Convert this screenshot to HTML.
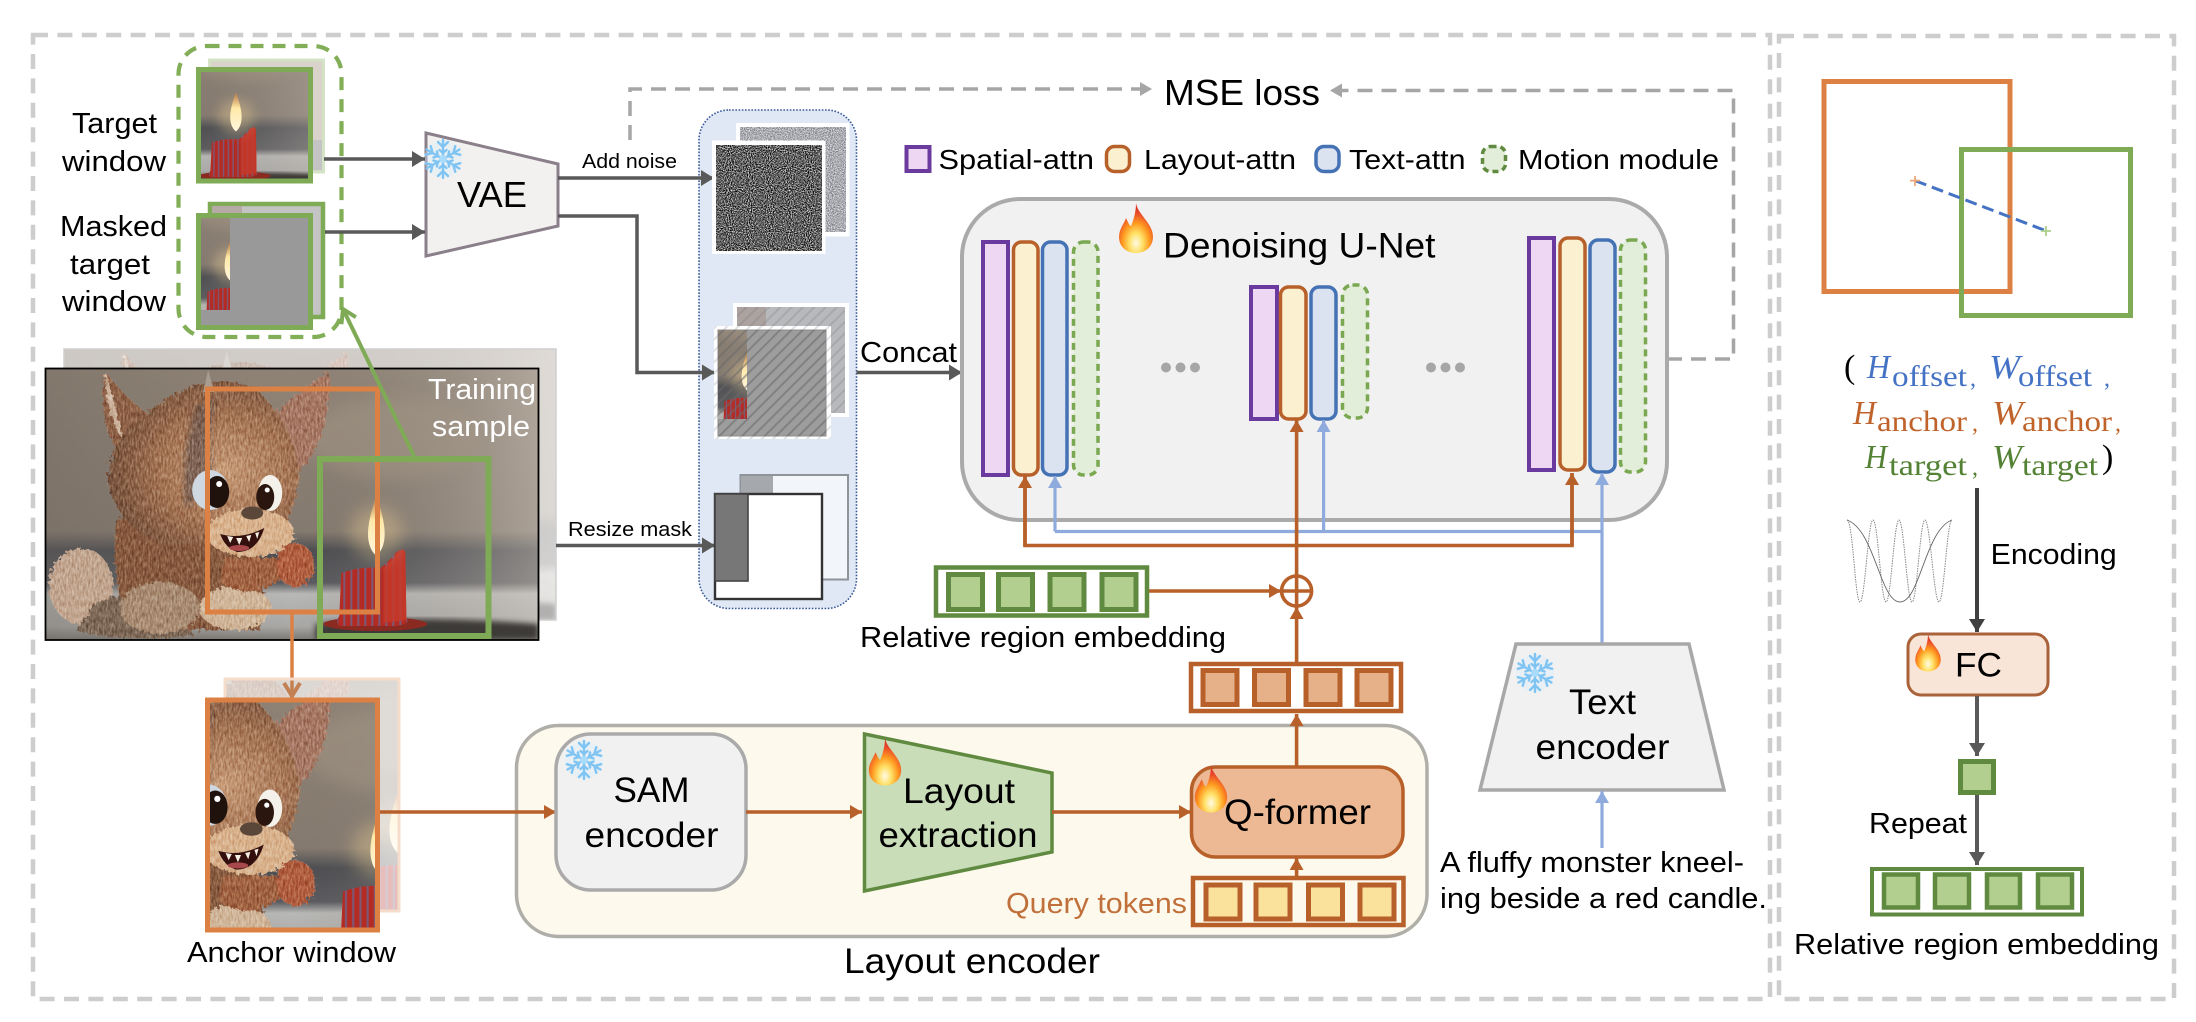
<!DOCTYPE html>
<html lang="en"><head><meta charset="utf-8"><title>Diagram</title>
<style>
html,body{margin:0;padding:0;background:#fff}
svg{display:block}
text{font-family:"Liberation Sans",sans-serif;fill:#000}
.s{font-family:"Liberation Serif",serif}
.i{font-family:"Liberation Serif",serif;font-style:italic}
.bl{fill:#4472c4}.or{fill:#c0632b}.gr{fill:#548235}
</style></head><body>
<svg xmlns="http://www.w3.org/2000/svg" width="2196" height="1022" viewBox="0 0 2196 1022">
<defs>
<marker id="mG" markerUnits="userSpaceOnUse" markerWidth="14" markerHeight="16" refX="13" refY="8" orient="auto"><path d="M0 0L13 8L0 16z" fill="#595959"/></marker>
<marker id="mO" markerUnits="userSpaceOnUse" markerWidth="13" markerHeight="14" refX="12" refY="7" orient="auto"><path d="M0 0L12 7L0 14z" fill="#b8602a"/></marker>
<marker id="mB" markerUnits="userSpaceOnUse" markerWidth="13" markerHeight="14" refX="12" refY="7" orient="auto"><path d="M0 0L12 7L0 14z" fill="#8faadc"/></marker>
<marker id="mD" markerUnits="userSpaceOnUse" markerWidth="13" markerHeight="14" refX="12" refY="7" orient="auto"><path d="M0 0L12 7L0 14z" fill="#a6a6a6"/></marker>
<marker id="mK" markerUnits="userSpaceOnUse" markerWidth="14" markerHeight="16" refX="13" refY="8" orient="auto"><path d="M0 0L13 8L0 16z" fill="#404040"/></marker>
<marker id="oG" markerUnits="userSpaceOnUse" markerWidth="18" markerHeight="20" refX="15" refY="10" orient="auto"><path d="M2 2L15 10L2 18" fill="none" stroke="#7fab56" stroke-width="4"/></marker>
<marker id="oO" markerUnits="userSpaceOnUse" markerWidth="18" markerHeight="20" refX="15" refY="10" orient="auto"><path d="M2 2L15 10L2 18" fill="none" stroke="#dc8044" stroke-width="4"/></marker>

<linearGradient id="bgV" x1="0" y1="0" x2="0" y2="1">
<stop offset="0" stop-color="#8f8376"/><stop offset=".6" stop-color="#857a6f"/><stop offset=".67" stop-color="#4c4d51"/><stop offset=".79" stop-color="#595a5e"/><stop offset=".83" stop-color="#b8b8b6"/><stop offset=".95" stop-color="#a8a8a6"/><stop offset="1" stop-color="#7b7873"/>
</linearGradient>
<linearGradient id="bgH" x1="0" y1="0" x2="1" y2="0">
<stop offset="0" stop-color="#6a625a" stop-opacity=".35"/><stop offset=".5" stop-color="#7a7068" stop-opacity="0"/><stop offset="1" stop-color="#d8d0c6" stop-opacity=".45"/>
</linearGradient>
<radialGradient id="head" cx=".62" cy=".55" r=".62">
<stop offset="0" stop-color="#c79a74"/><stop offset=".55" stop-color="#a47252"/><stop offset="1" stop-color="#75503a"/>
</radialGradient>
<radialGradient id="flameG" cx=".5" cy=".8" r=".72">
<stop offset="0" stop-color="#fffbe6"/><stop offset=".28" stop-color="#ffe066"/><stop offset=".55" stop-color="#ff9a20"/><stop offset=".85" stop-color="#e8452a"/><stop offset="1" stop-color="#d83a28"/>
</radialGradient>
<linearGradient id="cflame" x1="0" y1="0" x2="0" y2="1">
<stop offset="0" stop-color="#c87a3a" stop-opacity=".7"/><stop offset=".4" stop-color="#ffe9a8"/><stop offset="1" stop-color="#fff6de"/>
</linearGradient>
<pattern id="stripes" patternUnits="userSpaceOnUse" width="7" height="10"><rect width="7" height="10" fill="#b32b22"/><rect x="4" width="2" height="10" fill="#7a5a78"/></pattern>
<filter id="fur" x="-10%" y="-10%" width="120%" height="120%"><feTurbulence type="fractalNoise" baseFrequency=".3" numOctaves="2" seed="4" result="t"/><feDisplacementMap in="SourceGraphic" in2="t" scale="8" result="d"/><feTurbulence type="fractalNoise" baseFrequency=".55 .18" numOctaves="3" seed="9" result="n"/><feColorMatrix in="n" type="matrix" values="1 0 0 0 0 1 0 0 0 0 1 0 0 0 0 0 0 0 0 1" result="g"/><feComposite in="g" in2="d" operator="in" result="gi"/><feBlend in="gi" in2="d" mode="soft-light"/></filter>
<filter id="b3"><feGaussianBlur stdDeviation="3"/></filter>
<filter id="b8" x="-50%" y="-50%" width="200%" height="200%"><feGaussianBlur stdDeviation="8"/></filter>
<filter id="nD" x="0" y="0" width="1" height="1" color-interpolation-filters="sRGB"><feTurbulence type="fractalNoise" baseFrequency=".95" numOctaves="2" seed="3"/><feColorMatrix type="matrix" values="1 0 0 0 0 1 0 0 0 0 1 0 0 0 0 0 0 0 0 1"/><feComponentTransfer><feFuncR type="linear" slope="2.2" intercept="-.72"/><feFuncG type="linear" slope="2.2" intercept="-.72"/><feFuncB type="linear" slope="2.2" intercept="-.72"/></feComponentTransfer></filter>
<filter id="nL" x="0" y="0" width="1" height="1" color-interpolation-filters="sRGB"><feTurbulence type="fractalNoise" baseFrequency=".95" numOctaves="2" seed="8"/><feColorMatrix type="matrix" values="1 0 0 0 0 1 0 0 0 0 1 0 0 0 0 0 0 0 0 1"/><feComponentTransfer><feFuncR type="linear" slope="1" intercept=".17"/><feFuncG type="linear" slope="1" intercept=".18"/><feFuncB type="linear" slope="1" intercept=".2"/></feComponentTransfer></filter>
<pattern id="hatch" patternUnits="userSpaceOnUse" width="8" height="8" patternTransform="rotate(45)"><rect width="2" height="8" x="0" fill="#6a6a6a" opacity=".55"/></pattern>
<pattern id="hatchW" patternUnits="userSpaceOnUse" width="8" height="8" patternTransform="rotate(45)"><rect width="2" height="8" x="0" fill="#b0b4ba"/></pattern>

<g id="scene">
<rect width="493" height="272" fill="url(#bgV)"/>
<rect width="493" height="272" fill="url(#bgH)"/>
<ellipse cx="350" cy="70" rx="90" ry="40" fill="#a39686" opacity=".5" filter="url(#b8)"/>
<path d="M270 256Q360 246 493 256V272H270z" fill="#3d3b39" filter="url(#b3)"/>
<g filter="url(#fur)">
<ellipse cx="36" cy="218" rx="32" ry="38" fill="#c2a58e"/>
<path d="M30 262C60 272 110 272 150 268L110 215L50 235z" fill="#7d6654"/>
<path d="M72 150C66 190 70 240 95 262H215C222 230 218 190 205 150z" fill="#86593e"/>
<ellipse cx="115" cy="240" rx="40" ry="26" fill="#a88a6f"/>
<ellipse cx="190" cy="240" rx="36" ry="22" fill="#d0b598"/>
<path d="M60 3C52 40 62 82 92 104L132 60C106 52 82 32 60 3z" fill="#8d5f44"/>
<path d="M60 3C60 30 66 55 78 72C72 50 68 25 60 3z" fill="#cdb39c"/>
<path d="M284 3C256 20 240 38 224 50L252 104C278 84 286 40 284 3z" fill="#a67660"/>
<path d="M108 40Q160 0 210 20Q252 60 254 110Q250 150 224 176H120Q70 160 62 110Q66 70 108 40z" fill="url(#head)"/>
<path d="M150 40Q135 90 140 140L170 120Q160 80 170 30z" fill="#54494a" opacity=".55" filter="url(#b3)"/>
<ellipse cx="205" cy="165" rx="44" ry="24" fill="#d9b28c"/>
<path d="M238 208C215 232 190 224 175 214L180 190L235 190z" fill="#a0603f"/>
<ellipse cx="250" cy="197" rx="19" ry="22" fill="#b05c3c"/>
</g>
<path d="M158 24L163 2L169 24z" fill="#a89c90"/>
<ellipse cx="165" cy="122" rx="18" ry="20" fill="#cfd8e0"/>
<ellipse cx="172" cy="124" rx="12" ry="16" fill="#1f110c"/><circle cx="174" cy="116" r="3" fill="#fff"/>
<ellipse cx="225" cy="125" rx="12" ry="18" fill="#f4f1ea"/>
<ellipse cx="220" cy="129" rx="9" ry="13" fill="#2a160e"/><circle cx="222" cy="122" r="2.5" fill="#fff"/>
<ellipse cx="207" cy="145" rx="11" ry="6.5" fill="#5a473a"/>
<path d="M175 166Q196 172 219 160Q212 184 192 184Q180 180 175 166z" fill="#33100e"/>
<path d="M182 168l3 7l3-6zM191 170l3 7l3-7zM201 168l3 6l2-7zM210 165l2 6l2-7z" fill="#f6efe4"/>
<ellipse cx="194" cy="180" rx="10" ry="3" fill="#a8484a"/>
<ellipse cx="330" cy="256" rx="52" ry="7" fill="#8a2a20"/>
<path d="M296 205Q316 198 335 200Q345 192 350 185Q358 178 360 185L361 250Q366 256 350 258L294 258Q290 254 294 248z" fill="url(#stripes)"/>
<path d="M338 200Q348 192 352 185Q358 178 360 185L361 252L338 255z" fill="#c63a2a" opacity=".85"/>
<circle cx="331" cy="165" r="26" fill="#ffdf9a" opacity=".3" filter="url(#b8)"/>
<path d="M331 128C340 154 344 176 331 188C318 176 322 154 331 128z" fill="url(#cflame)"/>
</g>

<g id="flameI">
<path d="M20 0C22 12 37 20 37 34C37 44 29 50 20 50C11 50 3 44 3 34C3 26 8 21 10 15C12 19 13 22 15 23C18 16 20 8 20 0z" fill="url(#flameG)"/>
</g>
<g id="arm" fill="none" stroke="#7fc4f2" stroke-width="2.4" stroke-linecap="round">
<path d="M0 0V-19M0 -12L-5 -17M0 -12L5 -17M0 -6L-3.5 -9M0 -6L3.5 -9"/>
</g>
<g id="snow">
<circle r="19" fill="#d6efff" opacity=".35"/>
<use href="#arm"/><use href="#arm" transform="rotate(60)"/><use href="#arm" transform="rotate(120)"/><use href="#arm" transform="rotate(180)"/><use href="#arm" transform="rotate(240)"/><use href="#arm" transform="rotate(300)"/>
<circle r="4" fill="#a8dcfa"/>
</g>
</defs>

<!-- frames -->
<rect x="33" y="35" width="1737" height="964" fill="none" stroke="#cdcdcd" stroke-width="4.5" stroke-dasharray="15 9.4"/>
<rect x="1779" y="36" width="395" height="963" fill="none" stroke="#cdcdcd" stroke-width="4.5" stroke-dasharray="15 9.4"/>

<!-- blue panel -->
<rect x="699" y="110" width="157.5" height="498.5" rx="30" fill="#dfe8f4" stroke="#3b5a9b" stroke-width="1.6" stroke-dasharray="1.6 1.6"/>

<!-- target back -->
<rect x="209.5" y="60" width="114" height="112" fill="#d9d3cc" stroke="#d4e3c6" stroke-width="3"/>
<rect x="290" y="140" width="32" height="30" fill="#c4c4c4"/>
<!-- target front -->
<svg x="196" y="67" width="117" height="116" viewBox="273 89 170 178" preserveAspectRatio="none"><use href="#scene"/></svg>
<rect x="198.5" y="69.5" width="112" height="111.5" fill="none" stroke="#7fab56" stroke-width="5"/>

<!-- masked -->
<rect x="210" y="204" width="113" height="113" fill="#c4c4c4" stroke="#7fab56" stroke-width="4.5"/>
<rect x="212" y="206" width="30" height="8" fill="#b5aaa5"/>
<rect x="198.5" y="215.5" width="112" height="112" fill="#999" stroke="#7fab56" stroke-width="5"/>
<svg x="201" y="218" width="29" height="92" viewBox="286 92 45 141.5" preserveAspectRatio="none"><use href="#scene"/></svg>

<rect x="178.5" y="46" width="163" height="291" rx="28" fill="none" stroke="#82ae57" stroke-width="4.2" stroke-dasharray="13 9"/>

<text x="72" y="133" font-size="29" textLength="85" lengthAdjust="spacingAndGlyphs">Target</text>
<text x="62" y="171" font-size="29" textLength="104" lengthAdjust="spacingAndGlyphs">window</text>
<text x="60" y="236" font-size="29" textLength="107" lengthAdjust="spacingAndGlyphs">Masked</text>
<text x="70" y="274" font-size="29" textLength="80" lengthAdjust="spacingAndGlyphs">target</text>
<text x="62" y="311" font-size="29" textLength="104" lengthAdjust="spacingAndGlyphs">window</text>

<!-- training sample -->
<g opacity=".4"><svg x="64" y="349" width="492" height="271" viewBox="0 0 493 272" preserveAspectRatio="none"><use href="#scene"/></svg></g>
<rect x="64" y="349" width="492" height="271" fill="none" stroke="#cfcfcf" stroke-width="1.5"/>
<svg x="45" y="368" width="493.5" height="272" viewBox="0 0 493 272" preserveAspectRatio="none"><use href="#scene"/></svg>
<rect x="45.5" y="368.5" width="493" height="271.5" fill="none" stroke="#000" stroke-width="1.8"/>
<text x="428" y="399" font-size="29" textLength="108" lengthAdjust="spacingAndGlyphs" style="fill:#fff">Training</text>
<text x="432" y="436" font-size="29" textLength="98" lengthAdjust="spacingAndGlyphs" style="fill:#fff">sample</text>
<rect x="207.5" y="389" width="170" height="223" fill="none" stroke="#dc8044" stroke-width="5"/>
<rect x="320" y="459" width="168.5" height="177" fill="none" stroke="#7fab56" stroke-width="6"/>
<line x1="414" y1="456" x2="343" y2="309" stroke="#7fab56" stroke-width="4" marker-end="url(#oG)"/>
<line x1="292" y1="614" x2="292" y2="696" stroke="#dc8044" stroke-width="3.5" marker-end="url(#oO)"/>

<!-- anchor -->
<g opacity=".3"><svg x="225" y="679" width="174" height="232" viewBox="162 19 170 225" preserveAspectRatio="none"><use href="#scene"/></svg></g>
<rect x="225" y="679" width="174" height="232" fill="none" stroke="#f6dccb" stroke-width="3"/>
<svg x="205" y="698" width="175" height="234" viewBox="162 19 170 225" preserveAspectRatio="none"><use href="#scene"/></svg>
<rect x="207.5" y="700" width="170" height="230" fill="none" stroke="#dc8044" stroke-width="5"/>
<text x="187" y="962" font-size="29" textLength="209" lengthAdjust="spacingAndGlyphs">Anchor window</text>

<!-- VAE -->
<path d="M426 133L558 164V226L426 256z" fill="#f3f1ef" stroke="#8a7f8a" stroke-width="3"/>
<text x="457" y="207" font-size="36" textLength="70" lengthAdjust="spacingAndGlyphs">VAE</text>
<use href="#snow" transform="translate(443 159)"/>
<line x1="324" y1="159" x2="425" y2="159" stroke="#595959" stroke-width="3.5" marker-end="url(#mG)"/>
<line x1="325" y1="232" x2="425" y2="232" stroke="#595959" stroke-width="3.5" marker-end="url(#mG)"/>
<line x1="558" y1="178" x2="714" y2="178" stroke="#595959" stroke-width="3.5" marker-end="url(#mG)"/>
<path d="M558 216H637V372.5H715" fill="none" stroke="#595959" stroke-width="3.5" marker-end="url(#mG)"/>
<text x="582" y="168" font-size="20.5" textLength="95" lengthAdjust="spacingAndGlyphs">Add noise</text>
<text x="568" y="536" font-size="20.5" textLength="124" lengthAdjust="spacingAndGlyphs">Resize mask</text>
<line x1="556" y1="545.5" x2="715" y2="545.5" stroke="#595959" stroke-width="3.5" marker-end="url(#mG)"/>

<!-- noise -->
<rect x="736" y="123" width="113.5" height="113.5" fill="#fff"/>
<rect x="740" y="127" width="106" height="105" filter="url(#nL)"/>
<rect x="712" y="140.5" width="113.5" height="113.5" fill="#fff"/>
<rect x="716" y="145" width="106" height="106" filter="url(#nD)"/>

<!-- masked latent -->
<rect x="733" y="303" width="116" height="114" fill="#fff"/>
<rect x="737" y="307" width="108" height="106" fill="#b8b9bc"/>
<rect x="737" y="307" width="29" height="28" fill="#aca3a0"/>
<rect x="737" y="307" width="108" height="106" fill="url(#hatch)" opacity=".4"/>
<rect x="714" y="326" width="117" height="113" fill="#fff"/>
<rect x="714" y="326" width="117" height="113" fill="url(#hatchW)" opacity=".4"/>
<rect x="718" y="330" width="108" height="106" fill="#9d9d9d" stroke="#8d8d8d" stroke-width="1"/>
<svg x="718" y="330" width="29" height="89" viewBox="286 92 45 141.5" preserveAspectRatio="none"><use href="#scene"/></svg>
<rect x="718" y="330" width="108" height="106" fill="url(#hatch)"/>

<!-- mask -->
<rect x="740.5" y="475" width="107.5" height="104.5" fill="#f2f5fa" stroke="#8f949b" stroke-width="2"/>
<rect x="741" y="476" width="32" height="20" fill="#a5a8ad"/>
<rect x="715" y="494" width="107" height="105" fill="#fff" stroke="#333" stroke-width="2.4"/>
<rect x="715" y="494" width="33" height="87" fill="#777" stroke="#444" stroke-width="1.6"/>

<!-- concat -->
<text x="860" y="362" font-size="29" textLength="97" lengthAdjust="spacingAndGlyphs">Concat</text>
<line x1="856.5" y1="372.5" x2="962" y2="372.5" stroke="#595959" stroke-width="3.5" marker-end="url(#mG)"/>

<!-- mse -->
<path d="M630 140V89H1152" fill="none" stroke="#a6a6a6" stroke-width="3.5" stroke-dasharray="15 9" marker-end="url(#mD)"/>
<path d="M1667 359H1733.5V90.5H1330" fill="none" stroke="#a6a6a6" stroke-width="3.5" stroke-dasharray="15 9" marker-end="url(#mD)"/>
<text x="1164" y="105" font-size="36" textLength="156" lengthAdjust="spacingAndGlyphs">MSE loss</text>

<!-- legend -->
<rect x="906.5" y="147" width="23" height="24" fill="#eed7f2" stroke="#6b3a9e" stroke-width="4"/>
<text x="938.5" y="169" font-size="28" textLength="155.5" lengthAdjust="spacingAndGlyphs">Spatial-attn</text>
<rect x="1106.5" y="146.5" width="23" height="25" rx="8" fill="#fbf0d0" stroke="#b8602a" stroke-width="3.5"/>
<text x="1144" y="169" font-size="28" textLength="152" lengthAdjust="spacingAndGlyphs">Layout-attn</text>
<rect x="1316" y="146.5" width="23" height="25" rx="8" fill="#dbe3f1" stroke="#4472b4" stroke-width="3.5"/>
<text x="1349" y="169" font-size="28" textLength="116.5" lengthAdjust="spacingAndGlyphs">Text-attn</text>
<rect x="1482.5" y="146.5" width="23" height="25" rx="8" fill="#e3eeda" stroke="#5f8a3f" stroke-width="3.5" stroke-dasharray="6 4"/>
<text x="1518" y="169" font-size="28" textLength="201" lengthAdjust="spacingAndGlyphs">Motion module</text>

<!-- U-Net -->
<rect x="962" y="199" width="705" height="321" rx="58" fill="#f1f1f1" stroke="#aaa" stroke-width="4"/>
<use href="#flameI" transform="translate(1116 203)"/>
<text x="1163" y="257.5" font-size="35" textLength="272.5" lengthAdjust="spacingAndGlyphs">Denoising U-Net</text>

<g stroke-width="3.5">
<rect x="983" y="242" width="25" height="233" fill="#eed7f2" stroke="#6b3a9e" stroke-width="4"/>
<rect x="1013.5" y="242" width="24.5" height="233" rx="8" fill="#fbf0d0" stroke="#b8602a"/>
<rect x="1042.5" y="242" width="24.5" height="233" rx="8" fill="#dbe3f1" stroke="#4472b4"/>
<rect x="1073.5" y="242" width="24.5" height="233" rx="10" fill="#e3eeda" stroke="#79a850" stroke-dasharray="7 5"/>

<rect x="1251" y="287" width="26" height="132" fill="#eed7f2" stroke="#6b3a9e" stroke-width="4"/>
<rect x="1280.5" y="287" width="25.5" height="132" rx="8" fill="#fbf0d0" stroke="#b8602a"/>
<rect x="1311" y="287" width="25" height="132" rx="8" fill="#dbe3f1" stroke="#4472b4"/>
<rect x="1342.5" y="285" width="25" height="133" rx="10" fill="#e3eeda" stroke="#79a850" stroke-dasharray="7 5"/>

<rect x="1529" y="238" width="25" height="232" fill="#eed7f2" stroke="#6b3a9e" stroke-width="4"/>
<rect x="1560" y="238" width="25" height="232" rx="8" fill="#fbf0d0" stroke="#b8602a"/>
<rect x="1590" y="240" width="25" height="232" rx="8" fill="#dbe3f1" stroke="#4472b4"/>
<rect x="1620.5" y="240" width="25" height="232" rx="10" fill="#e3eeda" stroke="#79a850" stroke-dasharray="7 5"/>
</g>
<g fill="#a6a6a6"><circle cx="1166" cy="367.5" r="5"/><circle cx="1180.5" cy="367.5" r="5"/><circle cx="1195" cy="367.5" r="5"/><circle cx="1431" cy="367.5" r="5"/><circle cx="1445.5" cy="367.5" r="5"/><circle cx="1460" cy="367.5" r="5"/></g>

<!-- connectors -->
<path d="M1055 531.5V476" fill="none" stroke="#8faadc" stroke-width="3.2" marker-end="url(#mB)"/>
<path d="M1055 531.5H1602" fill="none" stroke="#8faadc" stroke-width="3.2"/>
<path d="M1323.6 531.5V420" fill="none" stroke="#8faadc" stroke-width="3.2" marker-end="url(#mB)"/>
<path d="M1602 644V473" fill="none" stroke="#8faadc" stroke-width="3.2" marker-end="url(#mB)"/>
<path d="M1025 476V545.5H1572V473" fill="none" stroke="#b8602a" stroke-width="3.6"/>
<path d="M1025 546V476" fill="none" stroke="#b8602a" stroke-width="3.6" marker-end="url(#mO)"/>
<path d="M1572 546V473" fill="none" stroke="#b8602a" stroke-width="3.6" marker-end="url(#mO)"/>
<path d="M1296.6 576V420" fill="none" stroke="#b8602a" stroke-width="3.6" marker-end="url(#mO)"/>
<circle cx="1296.6" cy="591" r="15" fill="#fff" stroke="#b8602a" stroke-width="3.6"/>
<path d="M1281.6 591H1311.6M1296.6 576V606" stroke="#b8602a" stroke-width="3.6"/>
<line x1="1148" y1="591" x2="1281" y2="591" stroke="#b8602a" stroke-width="3.6" marker-end="url(#mO)"/>
<line x1="1296.6" y1="662" x2="1296.6" y2="607" stroke="#b8602a" stroke-width="3.6" marker-end="url(#mO)"/>

<!-- relative embedding -->
<rect x="936" y="567.5" width="211" height="48" fill="#fff" stroke="#5f8a3f" stroke-width="4.5"/>
<g fill="#b3cf90" stroke="#5f8a3f" stroke-width="5">
<rect x="948.5" y="574.5" width="34" height="35"/><rect x="998.5" y="574.5" width="34" height="35"/><rect x="1050" y="574.5" width="34" height="35"/><rect x="1102" y="574.5" width="34" height="35"/>
</g>
<text x="860" y="647" font-size="29" textLength="366" lengthAdjust="spacingAndGlyphs">Relative region embedding</text>

<!-- output tokens -->
<rect x="1191" y="664" width="210" height="47" fill="#fff" stroke="#b8602a" stroke-width="4.5"/>
<g fill="#e6b189" stroke="#b8602a" stroke-width="5">
<rect x="1203" y="670.5" width="34" height="34"/><rect x="1254.5" y="670.5" width="34" height="34"/><rect x="1306" y="670.5" width="34" height="34"/><rect x="1357" y="670.5" width="34" height="34"/>
</g>

<!-- layout encoder -->
<rect x="516.5" y="725.5" width="910.5" height="211" rx="42" fill="#fef9ed" stroke="#b0aea8" stroke-width="3.5"/>
<text x="844" y="973" font-size="35" textLength="256" lengthAdjust="spacingAndGlyphs">Layout encoder</text>

<line x1="380" y1="812" x2="556" y2="812" stroke="#b8602a" stroke-width="3.6" marker-end="url(#mO)"/>
<rect x="556" y="734" width="190" height="156" rx="35" fill="#f1f1f1" stroke="#aaa" stroke-width="3.5"/>
<text x="613.5" y="802" font-size="35" textLength="76" lengthAdjust="spacingAndGlyphs">SAM</text>
<text x="584.5" y="847" font-size="35" textLength="134" lengthAdjust="spacingAndGlyphs">encoder</text>
<use href="#snow" transform="translate(584 760)"/>

<line x1="746" y1="812" x2="862" y2="812" stroke="#b8602a" stroke-width="3.6" marker-end="url(#mO)"/>
<path d="M864.5 734L1052 773V852L864.5 891z" fill="#c9ddb8" stroke="#5f8a3f" stroke-width="3.5"/>
<text x="903" y="803" font-size="35" textLength="112" lengthAdjust="spacingAndGlyphs">Layout</text>
<text x="878.5" y="847" font-size="35" textLength="159" lengthAdjust="spacingAndGlyphs">extraction</text>
<use href="#flameI" transform="translate(866 738) scale(.95)"/>

<line x1="1052" y1="812" x2="1191" y2="812" stroke="#b8602a" stroke-width="3.6" marker-end="url(#mO)"/>
<rect x="1191.5" y="767" width="211.5" height="90" rx="24" fill="#ecb994" stroke="#b8602a" stroke-width="3.5"/>
<line x1="1296.6" y1="767" x2="1296.6" y2="714" stroke="#b8602a" stroke-width="3.6" marker-end="url(#mO)"/>
<line x1="1296.6" y1="876" x2="1296.6" y2="858" stroke="#b8602a" stroke-width="3.6" marker-end="url(#mO)"/>
<text x="1224" y="824" font-size="35" textLength="147" lengthAdjust="spacingAndGlyphs">Q-former</text>
<use href="#flameI" transform="translate(1192 765) scale(.95)"/>

<text x="1006" y="913" font-size="29" textLength="181" lengthAdjust="spacingAndGlyphs" style="fill:#c0703a">Query tokens</text>
<rect x="1193" y="878" width="210.5" height="47" fill="#fef9ed" stroke="#b8602a" stroke-width="4.5"/>
<g fill="#fae29c" stroke="#b8602a" stroke-width="5">
<rect x="1206" y="885" width="34" height="34"/><rect x="1256" y="885" width="34" height="34"/><rect x="1308.5" y="885" width="34" height="34"/><rect x="1360" y="885" width="34" height="34"/>
</g>

<!-- text encoder -->
<path d="M1516 644H1689L1724 790H1480z" fill="#f1f1f1" stroke="#a8a8a8" stroke-width="3.5"/>
<text x="1569" y="714" font-size="35" textLength="67" lengthAdjust="spacingAndGlyphs">Text</text>
<text x="1535.5" y="759" font-size="35" textLength="134" lengthAdjust="spacingAndGlyphs">encoder</text>
<use href="#snow" transform="translate(1535 673)"/>
<line x1="1602" y1="848" x2="1602" y2="791" stroke="#8faadc" stroke-width="3.2" marker-end="url(#mB)"/>
<text x="1440" y="872" font-size="29" textLength="304" lengthAdjust="spacingAndGlyphs">A fluffy monster kneel-</text>
<text x="1440" y="908" font-size="29" textLength="327" lengthAdjust="spacingAndGlyphs">ing beside a red candle.</text>

<!-- right panel -->
<rect x="1824" y="81.5" width="186" height="210" fill="none" stroke="#dc8044" stroke-width="5"/>
<rect x="1961.5" y="149.5" width="169" height="166" fill="none" stroke="#7fab56" stroke-width="5"/>
<line x1="1915" y1="180.6" x2="2046" y2="230.8" stroke="#4472c4" stroke-width="3" stroke-dasharray="12 6"/>
<path d="M1910 180.6H1920M1915 176V186" stroke="#eda878" stroke-width="1.8"/>
<path d="M2041 231H2051M2046 226V236" stroke="#a9cf8a" stroke-width="1.8"/>

<text x="1844" y="378" class="s" font-size="34" style="fill:#000;font-family:'Liberation Serif',serif">(</text>
<text x="1867" y="378" class="i bl" font-size="34" textLength="23" lengthAdjust="spacingAndGlyphs" style="font-family:'Liberation Serif',serif">H</text>
<text x="1892" y="386" class="s bl" font-size="30" textLength="75" lengthAdjust="spacingAndGlyphs" style="font-family:'Liberation Serif',serif">offset</text>
<text x="1970" y="386" class="s bl" font-size="24" style="font-family:'Liberation Serif',serif">,</text>
<text x="1989" y="378" class="i bl" font-size="34" textLength="31" lengthAdjust="spacingAndGlyphs" style="font-family:'Liberation Serif',serif">W</text>
<text x="2018" y="386" class="s bl" font-size="30" textLength="74" lengthAdjust="spacingAndGlyphs" style="font-family:'Liberation Serif',serif">offset</text>
<text x="2104" y="386" class="s bl" font-size="24" style="font-family:'Liberation Serif',serif">,</text>

<text x="1853" y="424" class="i or" font-size="34" textLength="23" lengthAdjust="spacingAndGlyphs" style="font-family:'Liberation Serif',serif">H</text>
<text x="1877" y="431" class="s or" font-size="30" textLength="90" lengthAdjust="spacingAndGlyphs" style="font-family:'Liberation Serif',serif">anchor</text>
<text x="1972" y="431" class="s or" font-size="24" style="font-family:'Liberation Serif',serif">,</text>
<text x="1992" y="424" class="i or" font-size="34" textLength="31" lengthAdjust="spacingAndGlyphs" style="font-family:'Liberation Serif',serif">W</text>
<text x="2022" y="431" class="s or" font-size="30" textLength="90" lengthAdjust="spacingAndGlyphs" style="font-family:'Liberation Serif',serif">anchor</text>
<text x="2115" y="431" class="s or" font-size="24" style="font-family:'Liberation Serif',serif">,</text>

<text x="1865" y="468" class="i gr" font-size="34" textLength="22" lengthAdjust="spacingAndGlyphs" style="font-family:'Liberation Serif',serif">H</text>
<text x="1889" y="475" class="s gr" font-size="30" textLength="78" lengthAdjust="spacingAndGlyphs" style="font-family:'Liberation Serif',serif">target</text>
<text x="1972" y="475" class="s gr" font-size="24" style="font-family:'Liberation Serif',serif">,</text>
<text x="1992" y="468" class="i gr" font-size="34" textLength="30" lengthAdjust="spacingAndGlyphs" style="font-family:'Liberation Serif',serif">W</text>
<text x="2022" y="475" class="s gr" font-size="30" textLength="76" lengthAdjust="spacingAndGlyphs" style="font-family:'Liberation Serif',serif">target</text>
<text x="2102" y="468" font-size="34" style="font-family:'Liberation Serif',serif">)</text>

<line x1="1977" y1="488" x2="1977" y2="632" stroke="#404040" stroke-width="4" marker-end="url(#mK)"/>
<text x="1990.7" y="564" font-size="29" textLength="126" lengthAdjust="spacingAndGlyphs">Encoding</text>
<path d="M1847 520C1853 520 1855 602 1860 602S1868 520 1873 520S1881 602 1886 602S1894 520 1899 520S1907 602 1912 602S1920 520 1925 520S1934 602 1939 602S1947 520 1952 520" fill="none" stroke="#888" stroke-width="1" stroke-dasharray="1.5 1"/>
<path d="M1847 520C1875 530 1880 602 1900 602S1925 530 1952 520" fill="none" stroke="#666" stroke-width=".9"/>

<rect x="1908" y="634" width="140" height="61" rx="13" fill="#f8e5d8" stroke="#a9623a" stroke-width="3"/>
<use href="#flameI" transform="translate(1913 634) scale(.75)"/>
<text x="1955" y="676.7" font-size="34" textLength="47" lengthAdjust="spacingAndGlyphs">FC</text>

<line x1="1977" y1="696" x2="1977" y2="756" stroke="#595959" stroke-width="4" marker-end="url(#mG)"/>
<rect x="1960.5" y="761.5" width="33" height="31" fill="#b3cf90" stroke="#5f8a3f" stroke-width="5"/>
<line x1="1977" y1="795" x2="1977" y2="865" stroke="#595959" stroke-width="4" marker-end="url(#mG)"/>
<text x="1869" y="833" font-size="29" textLength="98" lengthAdjust="spacingAndGlyphs">Repeat</text>

<rect x="1872" y="869" width="210" height="45.5" fill="#fff" stroke="#5f8a3f" stroke-width="4"/>
<g fill="#b3cf90" stroke="#5f8a3f" stroke-width="4.5">
<rect x="1884" y="874.5" width="34" height="33"/><rect x="1935" y="874.5" width="34" height="33"/><rect x="1987" y="874.5" width="33" height="33"/><rect x="2038" y="874.5" width="34" height="33"/>
</g>
<text x="1794" y="954" font-size="29" textLength="365" lengthAdjust="spacingAndGlyphs">Relative region embedding</text>
</svg>
</body></html>
